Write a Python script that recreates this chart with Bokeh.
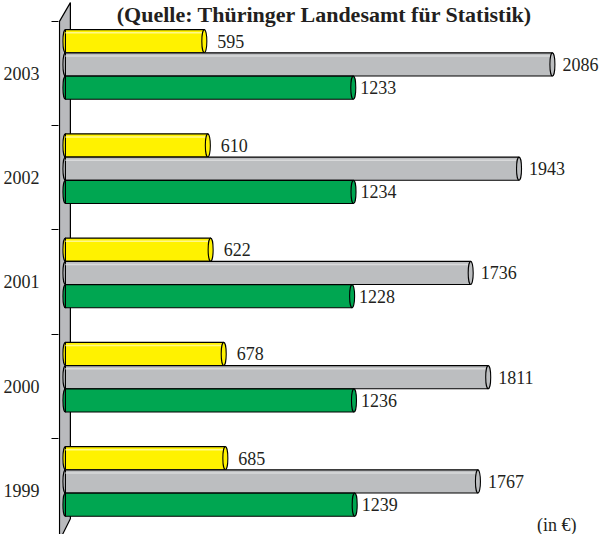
from bokeh.plotting import figure
from bokeh.models import ColumnDataSource, Range1d, FixedTicker, Label, LabelSet
from bokeh.transform import dodge
from bokeh.core.properties import value
from bokeh.embed import file_html
from bokeh.resources import INLINE

# ---- data ----
years = ["1999", "2000", "2001", "2002", "2003"]
yellow_vals = [685, 678, 622, 610, 595]
gray_vals = [1767, 1811, 1736, 1943, 2086]
green_vals = [1239, 1236, 1228, 1234, 1233]
title_text = "(Quelle: Thüringer Landesamt für Statistik)"
unit_text = "(in €)"

# ---- styles ----
YELLOW = "#FFF200"
GRAY = "#BCBEC0"
GREEN = "#00A651"
WALL = "#B9BABD"
INK = "#231F20"
FONT = "Liberation Serif"
BAR_H = 0.222
OFFS = {"yellow": 0.31, "gray": 0.087, "green": -0.136}
LABEL_DX = {"yellow": 13, "gray": 10, "green": 7}
HILITE = {"yellow": "#FFF88A", "gray": "#D9DADB", "green": None}

idx = list(range(len(years)))
src = ColumnDataSource(dict(
    idx=idx,
    zero=[0] * len(idx),
    yellow=yellow_vals, gray=gray_vals, green=green_vals,
    yellow_t=[str(v) for v in yellow_vals],
    gray_t=[str(v) for v in gray_vals],
    green_t=[str(v) for v in green_vals],
))

W, H = 600, 534
LEFT = 52
p = figure(width=W, height=H, x_range=Range1d(-29.7, 2292), y_range=Range1d(-0.422, 4.70),
           toolbar_location=None, output_backend="svg",
           min_border_left=LEFT, min_border_right=0, min_border_top=0, min_border_bottom=0)
p.outline_line_color = None
p.xgrid.visible = False
p.ygrid.visible = False
p.xaxis.visible = False
p.background_fill_color = "white"

# y axis: year labels at category centres, small ticks at boundaries
ya = p.yaxis[0]
ya.ticker = FixedTicker(ticks=idx, minor_ticks=[i + 0.5 for i in idx])
ya.major_label_overrides = {i: y for i, y in zip(idx, years)}
ya.axis_line_color = None
ya.major_tick_line_color = None
ya.major_tick_out = 0
ya.major_tick_in = 0
ya.minor_tick_out = 7
ya.minor_tick_in = 0
ya.minor_tick_line_color = "black"
ya.minor_tick_line_width = 1
ya.major_label_standoff = 12
ya.major_label_text_font = FONT
ya.major_label_text_font_size = "18px"
ya.major_label_text_color = INK

# the 3D "wall" behind the bars
n = len(years)
wall_x = [-25.4, 21.2, 21.2, -25.4]
wall_y = [n - 0.5, n - 0.32, -0.27, -0.48]
p.patch(wall_x, wall_y, fill_color=WALL, line_color="black", line_width=1.2)

for key, col in (("yellow", YELLOW), ("gray", GRAY), ("green", GREEN)):
    yy = dodge("idx", OFFS[key])
    # left end cap
    p.ellipse(x="zero", y=yy, width=5, width_units="screen", height=BAR_H,
              source=src, fill_color=col, line_color="black", line_width=1.1)
    p.hbar(y=yy, left="zero", right=key, height=BAR_H, source=src,
           fill_color=col, line_color="black", line_width=1.1)
    if HILITE[key]:
        hl = dodge("idx", OFFS[key] + BAR_H / 2 - 0.03)
        p.segment(x0="zero", y0=hl, x1=key, y1=hl, source=src,
                  line_color=HILITE[key], line_width=1.5)
    # right end cap
    p.ellipse(x=key, y=yy, width=5, width_units="screen", height=BAR_H,
              source=src, fill_color=col, line_color="black", line_width=1.1)
    p.add_layout(LabelSet(x=key, y=yy, text=key + "_t", source=src, x_offset=LABEL_DX[key],
                          text_baseline="middle", text_align="left",
                          text_font=value(FONT), text_font_size="18px", text_color=INK))

# screen coordinates of annotations are measured from the frame
p.add_layout(Label(x=326 - 8 - LEFT, y=H - 1, x_units="screen", y_units="screen", text=title_text,
                   text_align="center", text_baseline="top", text_font=FONT,
                   text_font_style="bold", text_font_size="22px", text_color=INK))
p.add_layout(Label(x=578 - 8 - LEFT, y=10, x_units="screen", y_units="screen", text=unit_text,
                   text_align="right", text_baseline="middle", text_font=FONT,
                   text_font_size="18px", text_color=INK))

open("out.html", "w").write(file_html(p, INLINE))
